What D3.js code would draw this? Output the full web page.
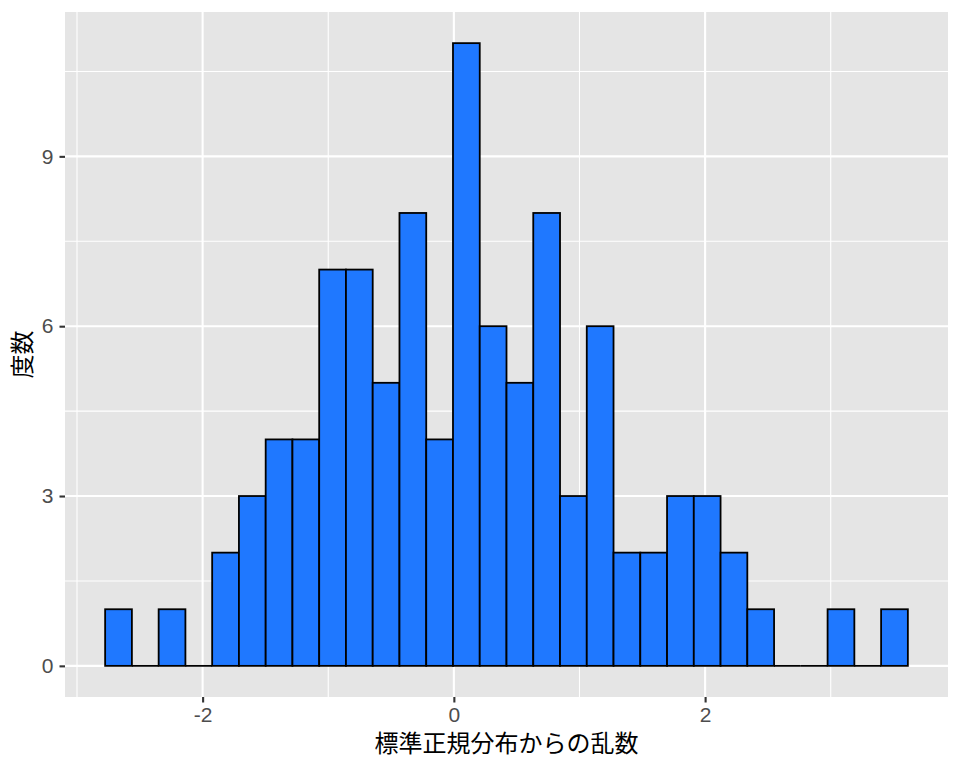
<!DOCTYPE html>
<html><head><meta charset="utf-8">
<script src="https://cdn.jsdelivr.net/npm/d3@7"></script>
<style>body{margin:0;background:#fff}</style>
</head><body>
<svg id="chart" width="960" height="768"></svg>
<script>
const binEdges = [-2.776,-2.563,-2.350,-2.137,-1.924,-1.711,-1.498,-1.285,-1.072,-0.859,-0.646,-0.433,-0.220,-0.007,0.206,0.419,0.632,0.845,1.058,1.271,1.484,1.697,1.910,2.123,2.336,2.549,2.762,2.975,3.188,3.401,3.614];
const counts = [1,0,1,0,2,3,4,4,7,7,5,8,4,11,6,5,8,3,6,2,2,3,3,2,1,0,0,1,0,1];
const xTicks = [-2,0,2];
const xMinor = [-3,-1,1,3];
const yTicks = [0,3,6,9];
const yMinor = [1.5,4.5,7.5,10.5];
const xTitle = "標準正規分布からの乱数";
const yTitle = "度数";

const bins = counts.map((c,i)=>({x0:binEdges[i],x1:binEdges[i+1],n:c}));
const svg = d3.select("#chart");
const L=65,R=948,T=12,B=697;
const xlo=binEdges[0], xhi=binEdges[binEdges.length-1], xpad=(xhi-xlo)*0.05;
const ymax=d3.max(counts), ypad=ymax*0.05;
const x=d3.scaleLinear().domain([xlo-xpad,xhi+xpad]).range([L,R]);
const y=d3.scaleLinear().domain([-ypad,ymax+ypad]).range([B,T]);

svg.append("rect").attr("x",L).attr("y",T).attr("width",R-L).attr("height",B-T).attr("fill","#e5e5e5");
const g=svg.append("g");
g.selectAll(".xm").data(xMinor).join("line").attr("x1",d=>x(d)).attr("x2",d=>x(d)).attr("y1",T).attr("y2",B).attr("stroke","#fff").attr("stroke-width",1.1);
g.selectAll(".ym").data(yMinor).join("line").attr("y1",d=>y(d)).attr("y2",d=>y(d)).attr("x1",L).attr("x2",R).attr("stroke","#fff").attr("stroke-width",1.1);
g.selectAll(".xM").data(xTicks).join("line").attr("x1",d=>x(d)).attr("x2",d=>x(d)).attr("y1",T).attr("y2",B).attr("stroke","#fff").attr("stroke-width",2.1);
g.selectAll(".yM").data(yTicks).join("line").attr("y1",d=>y(d)).attr("y2",d=>y(d)).attr("x1",L).attr("x2",R).attr("stroke","#fff").attr("stroke-width",2.1);

const bars=svg.append("g");
bars.selectAll("rect").data(bins.filter(d=>d.n>0)).join("rect")
  .attr("x",d=>x(d.x0)).attr("width",d=>x(d.x1)-x(d.x0))
  .attr("y",d=>y(d.n)).attr("height",d=>y(0)-y(d.n))
  .attr("fill","#1f78ff").attr("stroke","#000").attr("stroke-width",1.8);
bars.selectAll("line").data(bins.filter(d=>d.n===0)).join("line")
  .attr("x1",d=>x(d.x0)).attr("x2",d=>x(d.x1)).attr("y1",y(0)).attr("y2",y(0))
  .attr("stroke","#000").attr("stroke-width",1.8);

const font="'Liberation Sans', Arial, sans-serif";
const xAxis=svg.append("g").attr("transform",`translate(0,${B})`)
  .call(d3.axisBottom(x).tickValues(xTicks).tickSize(5.5).tickPadding(4.5).tickFormat(d3.format("d")));
const yAxis=svg.append("g").attr("transform",`translate(${L},0)`)
  .call(d3.axisLeft(y).tickValues(yTicks).tickSize(5.5).tickPadding(6).tickFormat(d3.format("d")));
[xAxis,yAxis].forEach(a=>{
  a.select(".domain").remove();
  a.selectAll(".tick line").attr("stroke","#333").attr("stroke-width",2.1);
  a.selectAll(".tick text").attr("fill","#4d4d4d").style("font-family",font).style("font-size","21px");
});
xAxis.selectAll(".tick text").text(d=>d<0?"-"+Math.abs(d):d);

svg.append("text").attr("x",(L+R)/2).attr("y",752).attr("text-anchor","middle")
  .style("font-family","'Noto Sans CJK JP', sans-serif").style("font-size","24px").attr("fill","#000").text(xTitle);
svg.append("text").attr("transform",`translate(31,${(T+B)/2}) rotate(-90)`).attr("text-anchor","middle")
  .style("font-family","'Noto Sans CJK JP', sans-serif").style("font-size","24px").attr("fill","#000").text(yTitle);
</script>
</body></html>
